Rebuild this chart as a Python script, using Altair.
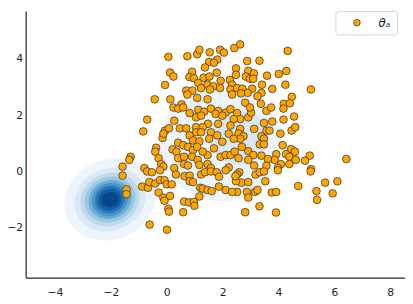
import numpy as np
import pandas as pd
import altair as alt

# ---------------- scatter samples (theta_a) ----------------
xs = [0.06,0.74,1.09,1.17,1.54,1.91,2.05,2.42,2.63,1.52,1.81,1.69,1.37,1.79,0.91,0.12,0.24,0.81,0.97,1.32,
      1.53,-0.06,1.13,1.46,1.67,1.93,2.26,2.34,0.70,0.92,1.23,1.55,1.91,2.28,-0.43,0.13,0.74,1.09,1.46,0.53,
      2.34,4.33,2.88,3.32,2.48,2.92,3.12,2.83,2.98,3.10,3.59,4.01,4.28,2.48,3.41,4.25,2.52,2.71,3.06,3.78,
      5.16,2.90,3.39,3.25,2.66,4.48,2.81,3.37,4.19,4.41,2.52,2.63,2.92,3.02,2.98,3.57,3.74,4.18,4.56,4.18,
      3.78,3.48,3.57,3.68,4.47,4.60,4.07,3.13,2.63,2.57,2.75,2.63,3.39,3.48,3.33,3.48,4.15,2.69,2.92,4.45,
      4.59,3.92,4.27,4.39,5.12,4.95,4.62,3.86,4.09,4.39,3.62,3.39,3.10,2.92,3.13,3.57,3.98,2.57,6.43,5.17,
      2.60,2.52,3.18,3.33,3.48,3.98,5.15,2.67,2.92,2.48,3.53,4.71,5.67,6.11,2.52,2.87,3.16,3.25,3.76,3.92,
      2.92,5.36,5.94,5.38,2.81,3.32,3.91,-0.70,-0.84,0.24,0.41,0.59,0.82,1.13,1.34,1.58,1.84,2.11,2.28,1.05,
      1.23,1.75,1.99,2.40,0.27,1.48,1.84,2.28,0.47,0.70,1.05,1.29,-0.06,0.08,-0.15,-0.12,0.82,1.05,1.23,1.58,
      0.94,1.17,1.52,1.81,1.99,2.22,2.40,0.41,0.59,0.76,0.21,-0.38,-0.41,0.35,0.94,1.09,1.46,1.29,1.69,1.93,
      2.11,2.28,2.43,-0.29,0.41,0.62,0.91,1.11,-1.29,-1.34,-0.20,-0.12,0.62,0.76,1.17,1.46,-1.58,-0.80,0.27,1.58,
      2.22,-1.58,-1.44,-1.44,-0.88,-0.67,-0.62,-0.41,-0.24,-0.08,0.00,0.18,-0.29,-0.12,-0.08,0.12,0.06,0.08,0.59,0.62,
      0.80,0.97,0.99,1.17,-0.61,0.01,0.33,0.64,0.82,0.82,0.94,1.23,1.37,1.58,1.79,1.87,2.11,2.46,1.20,1.29,
      1.46,1.61,1.87,2.11,2.34,-0.70,-0.53,-0.24]
ys = [4.08,4.10,4.17,4.33,4.24,4.33,4.23,4.39,4.52,3.90,3.98,3.87,3.70,3.52,3.55,3.52,3.38,3.36,3.32,3.34,
      3.38,3.08,3.15,3.09,3.03,3.23,3.26,3.09,2.88,2.88,2.97,2.92,2.97,2.92,2.57,2.57,2.74,2.62,2.57,2.39,
      2.74,4.29,3.93,3.94,3.67,3.58,3.49,3.38,3.30,3.30,3.41,3.47,3.58,3.44,3.09,3.09,2.97,2.95,2.95,2.94,
      2.92,2.80,2.80,2.68,2.78,2.66,2.45,2.41,2.41,2.43,2.08,1.87,1.93,2.10,2.28,2.16,2.28,2.24,1.96,1.85,
      1.78,1.73,1.46,1.46,1.46,1.58,1.35,1.52,1.52,1.35,1.26,1.17,1.26,1.17,0.97,0.97,0.94,0.88,0.73,0.80,
      0.71,0.62,0.62,0.53,0.57,0.39,0.42,0.42,0.27,0.27,0.45,0.57,0.59,0.42,0.22,0.21,0.13,0.48,0.45,0.09,
      -0.02,-0.10,-0.10,-0.02,0.01,0.05,0.01,-0.39,-0.37,-0.34,-0.34,-0.51,-0.39,-0.34,-0.72,-0.72,-0.72,-0.65,-0.74,-0.72,
      -0.92,-0.69,-0.77,-1.00,-1.44,-1.23,-1.45,1.85,1.43,2.28,2.24,2.28,2.08,2.20,2.13,2.24,2.16,2.10,2.22,1.93,
      1.99,2.05,1.99,1.87,1.81,1.70,1.70,1.64,1.54,1.54,1.58,1.58,1.46,1.54,1.20,1.35,1.29,1.40,1.40,1.40,
      1.11,1.08,1.17,1.29,1.06,1.35,1.17,1.03,0.94,0.88,0.79,0.85,0.71,0.71,0.77,0.88,0.59,0.71,0.83,0.53,
      0.59,0.59,0.71,0.48,0.48,0.53,0.53,0.42,0.53,0.42,0.27,0.18,0.27,0.22,0.24,0.27,0.18,0.13,0.13,0.13,
      0.15,-0.14,-0.63,-0.80,-0.53,-0.57,-0.37,-0.42,-0.30,-0.30,-0.45,-0.45,-0.74,-0.92,-1.03,-0.86,-1.32,-1.42,-1.44,-1.06,
      -1.09,-1.07,-1.21,-0.88,-1.88,-2.06,-0.10,-0.16,-0.14,-0.34,-0.37,-0.10,-0.02,0.01,-0.02,-0.18,0.05,-0.16,-0.57,-0.60,
      -0.65,-0.69,-0.53,-0.65,-0.72,0.01,-0.02,0.05]
series_name = "θₐ"

# ---------------- density contour bands ----------------
# each band: centre x, centre y, semi-axis a, semi-axis b, tilt (deg), colour level (0 = lightest)
band_cx    = [1.95, 2.60, -2.03, -2.03, -2.03, -2.03, -2.03, -2.03, -2.03, -2.03, -2.03]
band_cy    = [1.00, 1.20, -0.99, -0.99, -0.99, -0.99, -0.99, -0.99, -0.99, -0.99, -0.99]
band_a     = [2.20, 1.05, 1.66, 1.30, 1.08, 0.92, 0.78, 0.66, 0.54, 0.43, 0.30]
band_b     = [2.05, 0.95, 1.42, 1.10, 0.93, 0.80, 0.68, 0.58, 0.48, 0.38, 0.26]
band_tilt  = [0, 0, 22, 22, 22, 22, 22, 22, 22, 22, 22]
band_level = [0, 1, 0, 1, 2, 3, 4, 5, 6, 7, 8]
blues = ["#edf4fb", "#d9e8f5", "#bfd8ed", "#9ac8e0", "#6baed6", "#4795c8", "#2878b9", "#105ca4", "#0a468a"]

XDOM = [-5.05, 8.53]
YDOM = [-3.76, 5.71]

rows = []
t = np.linspace(0, 2 * np.pi, 73)
for i in range(len(band_cx)):
    th = np.deg2rad(band_tilt[i])
    ex = band_cx[i] + band_a[i] * np.cos(t) * np.cos(th) - band_b[i] * np.sin(t) * np.sin(th)
    ey = band_cy[i] + band_a[i] * np.cos(t) * np.sin(th) + band_b[i] * np.sin(t) * np.cos(th)
    for k in range(len(t)):
        rows.append({"band": i, "k": k, "x": float(ex[k]), "y": float(ey[k]),
                     "c": blues[band_level[i]]})
bands = pd.DataFrame(rows)

xsc = alt.Scale(domain=XDOM, nice=False, zero=False)
ysc = alt.Scale(domain=YDOM, nice=False, zero=False)

layers = []
for i in range(len(band_cx)):
    sub = bands[bands["band"] == i]
    layers.append(
        alt.Chart(sub).mark_line(filled=True, strokeWidth=0).encode(
            x=alt.X("x:Q", scale=xsc),
            y=alt.Y("y:Q", scale=ysc),
            order="k:Q",
            fill=alt.Fill("c:N", scale=None),
        )
    )

pts = pd.DataFrame({"x": xs, "y": ys, "s": [series_name] * len(xs)})
scatter = alt.Chart(pts).mark_point(
    filled=True, size=62, stroke="#2a2a2a", strokeWidth=0.7, opacity=1
).encode(
    x=alt.X("x:Q", scale=xsc,
            axis=alt.Axis(values=[-4, -2, 0, 2, 4, 6, 8], title=None)),
    y=alt.Y("y:Q", scale=ysc,
            axis=alt.Axis(values=[-2, 0, 2, 4], title=None)),
    fill=alt.Fill("s:N", scale=alt.Scale(domain=[series_name], range=["#ffa500"]),
                  legend=alt.Legend(title=None, orient="none", legendX=316, legendY=0,
                                    fillColor="white", strokeColor="#d6d6d6", cornerRadius=3,
                                    padding=6, symbolOffset=10, labelOffset=16,
                                    symbolSize=45, symbolStrokeColor="#2a2a2a",
                                    symbolStrokeWidth=0.7, symbolType="circle",
                                    labelFontSize=12, labelFontStyle="italic",
                                    labelFont="DejaVu Sans", labelColor="#262626")),
)

chart = alt.layer(*layers, scatter).properties(
    width=387, height=272,
    padding={"left": 18, "top": 0, "right": 0, "bottom": 24},
    autosize=alt.AutoSizeParams(type="none"),
).configure_view(stroke=None).configure_axis(
    grid=False, ticks=False, tickSize=0,
    domainColor="#262626", domainWidth=1.25,
    labelFont="DejaVu Sans", labelFontSize=11, labelColor="#262626",
    labelExpr="replace(datum.label, '-', '\u2212')",
).configure_axisX(labelPadding=9).configure_axisY(labelPadding=3)

chart.save("out.html", embed_options={"renderer": "svg", "actions": False})
